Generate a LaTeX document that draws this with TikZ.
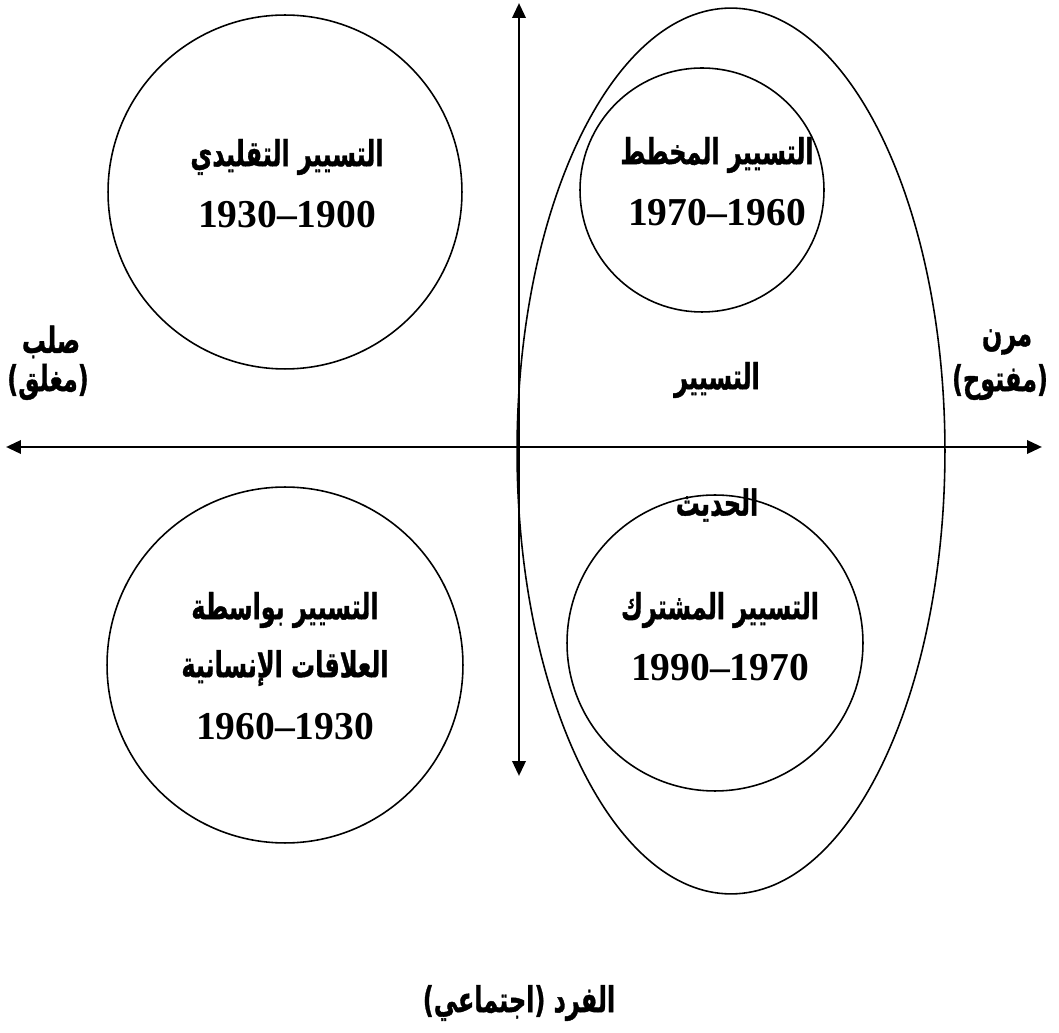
\documentclass[tikz,border=0pt]{standalone}
\usepackage{fontspec}
\setmainfont{Liberation Serif}
\newfontfamily\arabicfont[Script=Arabic,BoldFeatures={FakeBold=1.2}]{DejaVu Sans}
\TeXXeTstate=1
\usetikzlibrary{arrows.meta}
\newcommand{\ar}[1]{\scalebox{0.8}[1.2]{\arabicfont\bfseries\beginR #1\endR}}
\begin{document}
\begin{tikzpicture}[x=0.02cm,y=-0.02cm,
  axis/.style={line width=1.6pt,{Triangle[length=8.5pt,width=7.5pt]}-{Triangle[length=8.5pt,width=7.5pt]}},
  ring/.style={line width=0.9pt},
  lbl/.style={inner sep=0pt,font=\fontsize{17}{20}\selectfont},
  num/.style={inner sep=0pt,font=\fontsize{22.5}{26}\selectfont\bfseries}]
\useasboundingbox (0,0) rectangle (1059,1033);
% axes
\coordinate (top) at (519,3);
\coordinate (bot) at (519,776);
\coordinate (left) at (6,447);
\coordinate (right) at (1042,447);
\draw[axis] (bot) -- (top);
\draw[axis] (left) -- (right);
% shapes
\draw[ring] (731,451) ellipse [x radius=4.28cm, y radius=8.86cm];
\draw[ring] (285,192) circle [radius=3.54cm];
\draw[ring] (702,190) circle [radius=2.44cm];
\draw[ring] (285,665) circle [radius=3.56cm];
\draw[ring] (715,643) circle [radius=2.96cm];
% labels
\node[lbl] (a1) at (287,157) {\ar{التسيير التقليدي}};
\node[num] (n1) at (287,215) {1930–1900};
\node[lbl] (a2) at (717,155) {\ar{التسيير المخطط}};
\node[num] (n2) at (717,213) {1970–1960};
\node[lbl] (s1) at (51,342) {\ar{صلب}};
\node[lbl] (s2) at (48,382) {\ar{(مغلق)}};
\node[lbl] (m1) at (1007,342) {\ar{مرن}};
\node[lbl] (m2) at (1000,382) {\ar{(مفتوح)}};
\node[lbl] (h1) at (717,380) {\ar{التسيير}};
\node[lbl] (h2) at (717,505) {\ar{الحديث}};
\node[lbl] (b1) at (285,610) {\ar{التسيير بواسطة}};
\node[lbl] (b2) at (285,668) {\ar{العلاقات الإنسانية}};
\node[num] (n3) at (285,727) {1960–1930};
\node[lbl] (c1) at (720,610) {\ar{التسيير المشترك}};
\node[num] (n4) at (720,668) {1990–1970};
\node[lbl] (f1) at (519,1003) {\ar{الفرد (اجتماعي)}};
\end{tikzpicture}
\end{document}
